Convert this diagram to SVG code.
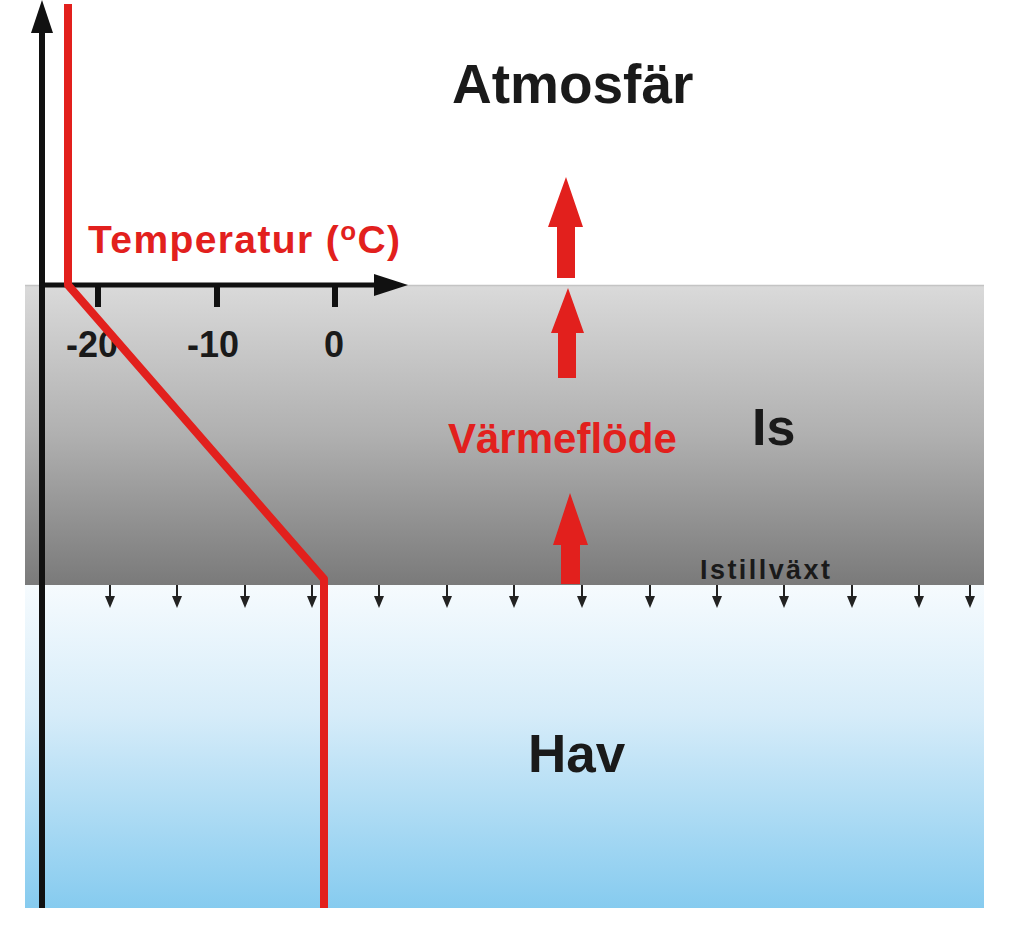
<svg xmlns="http://www.w3.org/2000/svg" width="1024" height="926" viewBox="0 0 1024 926">
  <defs>
    <linearGradient id="iceGrad" x1="0" y1="0" x2="0" y2="1">
      <stop offset="0" stop-color="#dadada"/>
      <stop offset="0.5" stop-color="#b0b0b0"/>
      <stop offset="1" stop-color="#7a7a7a"/>
    </linearGradient>
    <linearGradient id="seaGrad" x1="0" y1="0" x2="0" y2="1">
      <stop offset="0" stop-color="#f6fbfe"/>
      <stop offset="0.4" stop-color="#d6ecf9"/>
      <stop offset="1" stop-color="#86cbef"/>
    </linearGradient>
    <marker id="smallHead" markerWidth="12" markerHeight="10" refX="0" refY="5" orient="auto" markerUnits="userSpaceOnUse" viewBox="0 0 12 10">
      <path d="M0,0 L12,5 L0,10 Z" fill="#222"/>
    </marker>
    <style>
      .lbl { font-family: "Liberation Sans", Arial, sans-serif; font-weight: bold; }
      .blk { fill: #1a1a1a; }
      .red { fill: #e2201d; }
      .redArrow { fill: #e2201d; }
      .growth { stroke: #222; stroke-width: 2; fill: none; }
    </style>
  </defs>

  <rect width="1024" height="926" fill="#ffffff"/>

  <g id="atmosphere">
    <text class="lbl blk" x="452" y="103" font-size="55">Atmosfär</text>
  </g>

  <g id="ice">
    <rect x="25" y="285" width="959" height="300" fill="url(#iceGrad)"/>
    <line x1="25" y1="285.5" x2="984" y2="285.5" stroke="#c4c4c4" stroke-width="1.5"/>
    <text class="lbl blk" x="752" y="445" font-size="52">Is</text>
    <text class="lbl blk" x="700" y="579" font-size="27" textLength="130" lengthAdjust="spacing">Istillväxt</text>
  </g>

  <g id="ocean">
    <rect x="25" y="585" width="959" height="323" fill="url(#seaGrad)"/>
    <text class="lbl blk" x="528" y="772" font-size="53">Hav</text>
  </g>

  <g id="connectors">
    <!-- ice growth arrows -->
    <g class="growth" marker-end="url(#smallHead)">
      <line x1="110" y1="585" x2="110" y2="596"/>
      <line x1="177" y1="585" x2="177" y2="596"/>
      <line x1="245" y1="585" x2="245" y2="596"/>
      <line x1="312" y1="585" x2="312" y2="596"/>
      <line x1="379" y1="585" x2="379" y2="596"/>
      <line x1="447" y1="585" x2="447" y2="596"/>
      <line x1="514" y1="585" x2="514" y2="596"/>
      <line x1="582" y1="585" x2="582" y2="596"/>
      <line x1="650" y1="585" x2="650" y2="596"/>
      <line x1="717" y1="585" x2="717" y2="596"/>
      <line x1="784" y1="585" x2="784" y2="596"/>
      <line x1="852" y1="585" x2="852" y2="596"/>
      <line x1="919" y1="585" x2="919" y2="596"/>
      <line x1="970" y1="585" x2="970" y2="596"/>
    </g>

    <!-- heat flow arrows -->
    <path class="redArrow" d="M566,177 L583,227 L575,227 L575,278 L557,278 L557,227 L548,227 Z"/>
    <path class="redArrow" d="M568,288 L584,333 L576,333 L576,378 L558,378 L558,333 L551,333 Z"/>
    <path class="redArrow" d="M570,493 L588,545 L580,545 L580,584 L561,584 L561,545 L553,545 Z"/>

    <!-- axes -->
    <line x1="42" y1="908" x2="42" y2="28" stroke="#111" stroke-width="6"/>
    <path d="M42,0 L53,33 L31,33 Z" fill="#111"/>
    <line x1="40" y1="285" x2="378" y2="285" stroke="#111" stroke-width="5"/>
    <path d="M408,285 L374,274 L374,296 Z" fill="#111"/>
    <g stroke="#111" stroke-width="6">
      <line x1="98" y1="285" x2="98" y2="307"/>
      <line x1="217" y1="285" x2="217" y2="307"/>
      <line x1="335" y1="285" x2="335" y2="307"/>
    </g>
  </g>

  <g id="axis-labels">
    <text class="lbl blk" x="92" y="357" font-size="36" text-anchor="middle">-20</text>
    <text class="lbl blk" x="213" y="357" font-size="36" text-anchor="middle">-10</text>
    <text class="lbl blk" x="334" y="357" font-size="36" text-anchor="middle">0</text>
    <text class="lbl red" x="88" y="253" font-size="39" textLength="312" lengthAdjust="spacing">Temperatur (<tspan font-size="26" dy="-13">o</tspan><tspan dy="13">C)</tspan></text>
  </g>

  <g id="temperature-profile">
    <polyline points="68,4 68,285 324,579 324,908" fill="none" stroke="#e2201d" stroke-width="8" stroke-linejoin="round"/>
  </g>

  <g id="heat-flow">
    <text class="lbl red" x="448" y="453" font-size="42">Värmeflöde</text>
  </g>
</svg>
